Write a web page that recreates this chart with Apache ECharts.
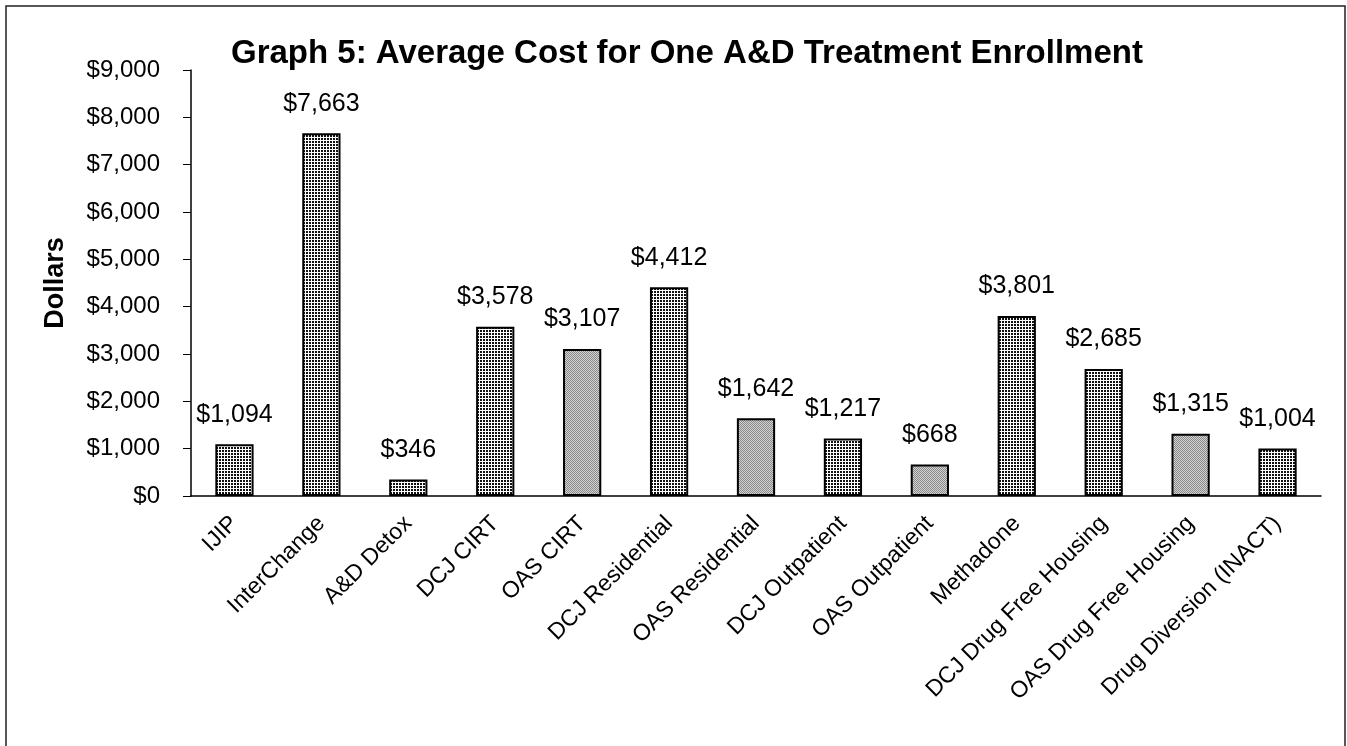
<!DOCTYPE html>
<html>
<head>
<meta charset="utf-8">
<title>Graph 5</title>
<script src="https://cdn.jsdelivr.net/npm/echarts@6/dist/echarts.min.js"></script>
<style>
  html, body { margin: 0; padding: 0; background: #fff; }
  #chart { width: 1347px; height: 746px; }
</style>
</head>
<body>
<div id="chart"></div>
<script>
// categories and values
var programs = [
  "IJIP", "InterChange", "A&D Detox", "DCJ CIRT", "OAS CIRT",
  "DCJ Residential", "OAS Residential", "DCJ Outpatient", "OAS Outpatient",
  "Methadone", "DCJ Drug Free Housing", "OAS Drug Free Housing",
  "Drug Diversion (INACT)"
];
var avgCost = [1094, 7663, 346, 3578, 3107, 4412, 1642, 1217, 668, 3801, 2685, 1315, 1004];
var yTicks = [0, 1000, 2000, 3000, 4000, 5000, 6000, 7000, 8000, 9000];

function money(v) {
  return "$" + Number(v).toLocaleString("en-US");
}

// small fill patterns, like the old excel hatch fills
function makePattern(size, draw) {
  var c = document.createElement("canvas");
  c.width = size;
  c.height = size;
  draw(c.getContext("2d"));
  return { image: c, repeat: "repeat" };
}
var darkFill = makePattern(3, function (ctx) {
  ctx.fillStyle = "#fff";
  ctx.fillRect(0, 0, 3, 3);
  ctx.fillStyle = "#111";
  ctx.fillRect(0, 0, 2, 2);
});
var lightFill = makePattern(2, function (ctx) {
  ctx.fillStyle = "#d2d2d2";
  ctx.fillRect(0, 0, 2, 2);
  ctx.fillStyle = "#8a8a8a";
  ctx.fillRect(0, 0, 1, 1);
  ctx.fillRect(1, 1, 1, 1);
});

var barData = avgCost.map(function (v, i) {
  return {
    value: v,
    itemStyle: { color: programs[i].indexOf("OAS") === 0 ? lightFill : darkFill }
  };
});

var myChart = echarts.init(document.getElementById("chart"));

var option = {
  animation: false,
  backgroundColor: "#fff",
  textStyle: { fontFamily: "Liberation Sans, Arial, sans-serif", color: "#000" },
  title: {
    text: "Graph 5: Average Cost for One A&D Treatment Enrollment",
    left: 226,
    top: 32,
    textStyle: { fontSize: 33, fontWeight: "bold", color: "#000" }
  },
  graphic: [{
    type: "rect",
    shape: { x: 6, y: 6, width: 1339, height: 800 },
    style: { fill: null, stroke: "#222", lineWidth: 1.5 },
    silent: true
  }],
  grid: { left: 191, right: 26, top: 70, bottom: 250 },
  xAxis: {
    type: "category",
    data: programs,
    axisLine: { lineStyle: { color: "#000", width: 1.5 } },
    axisTick: { length: 8, lineStyle: { color: "#000" } },
    axisLabel: {
      interval: 0,
      rotate: 45,
      margin: 24,
      fontSize: 23,
      color: "#000"
    }
  },
  yAxis: {
    type: "value",
    min: 0,
    max: 9000,
    interval: 1000,
    name: "Dollars",
    nameLocation: "middle",
    nameRotate: 90,
    nameGap: 122,
    nameTextStyle: { fontSize: 27, fontWeight: "bold", color: "#000" },
    axisLine: { show: true, lineStyle: { color: "#000", width: 1.5 } },
    axisTick: { show: true, length: 8, lineStyle: { color: "#000" } },
    axisLabel: {
      margin: 31,
      fontSize: 24,
      color: "#000",
      formatter: function (v) {
        return yTicks.indexOf(v) >= 0 ? money(v) : "";
      }
    },
    splitLine: { show: false }
  },
  series: [{
    name: "Average cost",
    type: "bar",
    data: barData,
    barWidth: "44%",
    itemStyle: { borderColor: "#000", borderWidth: 2 },
    label: {
      show: true,
      position: "top",
      distance: 17,
      fontSize: 25,
      color: "#000",
      formatter: function (p) { return money(p.value); }
    }
  }]
};

myChart.setOption(option);
</script>
</body>
</html>
